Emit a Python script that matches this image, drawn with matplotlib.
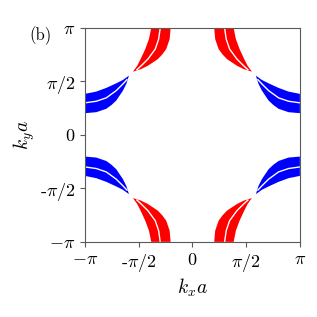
import numpy as np
import matplotlib
matplotlib.use("Agg")
import matplotlib.pyplot as plt

plt.rcParams['mathtext.fontset'] = 'cm'
plt.rcParams['font.family'] = 'serif'
plt.rcParams['font.serif'] = ['cmr10', 'DejaVu Serif']
plt.rcParams['axes.unicode_minus'] = False

pi = np.pi

# red band in the upper-left quadrant (kx a, ky a)
outer_kx = [-1.204, -1.271, -1.379, -1.514, -1.613, -1.739]
outer_ky = [pi, 2.811, 2.519, 2.227, 2.031, 1.856]
inner_kx = [-0.637, -0.666, -0.766, -0.877, -1.008, -1.300, -1.505]
inner_ky = [pi, 2.811, 2.519, 2.367, 2.227, 2.031, 1.929]
gap_kx = [-0.941, -0.988, -1.087, -1.300, -1.496, -1.637]
gap_ky = [pi, 2.811, 2.519, 2.227, 2.031, 1.900]

ticks = [-pi, -pi/2, 0, pi/2, pi]
xticklabels = [r'$-\pi$', r'-$\pi/2$', r'$0$', r'$\pi/2$', r'$\pi$']
yticklabels = [r'$-\pi$', r'-$\pi/2$', r'$0$', r'$\pi/2$', r'$\pi$']

fig = plt.figure(figsize=(3.17, 3.17), dpi=100)
ax = fig.add_axes([0.268, 0.237, 0.678, 0.675])

band_x = np.array(outer_kx + inner_kx[::-1])
band_y = np.array(outer_ky + inner_ky[::-1])
gx = np.array(gap_kx)
gy = np.array(gap_ky)

for sx in (1, -1):
    for sy in (1, -1):
        # red near ky = +-pi
        ax.fill(sx*band_x, sy*band_y, color='#ff0000', lw=0)
        ax.plot(sx*gx, sy*gy, color='white', lw=1.0, solid_capstyle='butt')
        # blue near kx = +-pi (mirror across the diagonal)
        ax.fill(-sx*band_y, -sy*band_x, color='#0000ff', lw=0)
        ax.plot(-sx*gy, -sy*gx, color='white', lw=1.0, solid_capstyle='butt')

ax.set_xlim(-pi, pi)
ax.set_ylim(-pi, pi)
ax.set_xticks(ticks)
ax.set_yticks(ticks)
ax.set_xticklabels(xticklabels, fontsize=13)
ax.set_yticklabels(yticklabels, fontsize=13)
ax.set_xlabel(r'$k_x a$', fontsize=14, labelpad=2)
ax.set_ylabel(r'$k_y a$', fontsize=14, labelpad=2)
for s in ax.spines.values():
    s.set_color('0.35')
ax.tick_params(color='0.35')
fig.text(0.092, 0.886, '(b)', fontsize=12, va='center')

plt.savefig('out.png', dpi=100)
